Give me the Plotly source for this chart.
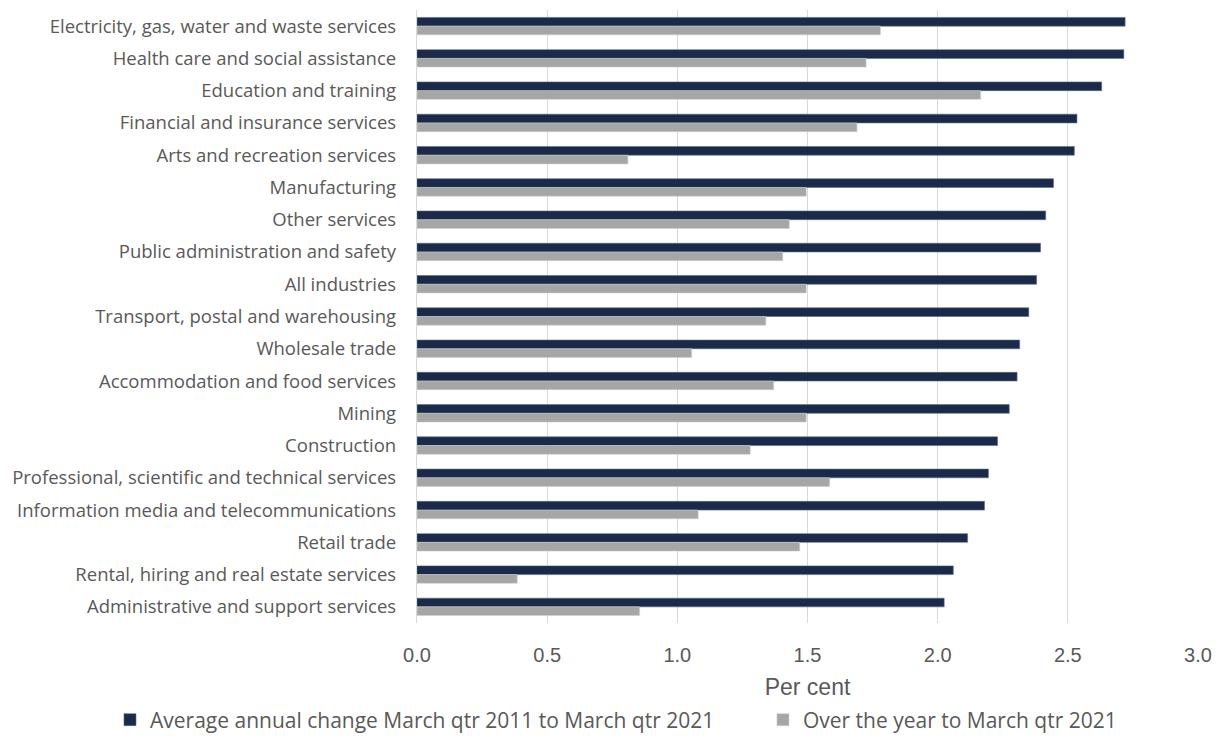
import plotly.graph_objects as go

categories = [
    "Electricity, gas, water and waste services",
    "Health care and social assistance",
    "Education and training",
    "Financial and insurance services",
    "Arts and recreation services",
    "Manufacturing",
    "Other services",
    "Public administration and safety",
    "All industries",
    "Transport, postal and warehousing",
    "Wholesale trade",
    "Accommodation and food services",
    "Mining",
    "Construction",
    "Professional, scientific and technical services",
    "Information media and telecommunications",
    "Retail trade",
    "Rental, hiring and real estate services",
    "Administrative and support services",
]
avg_annual = [2.72, 2.715, 2.63, 2.535, 2.525, 2.445, 2.415, 2.395, 2.38, 2.35,
              2.315, 2.305, 2.275, 2.23, 2.195, 2.18, 2.115, 2.06, 2.025]
over_year = [1.78, 1.725, 2.165, 1.69, 0.81, 1.495, 1.43, 1.405, 1.495, 1.34,
             1.055, 1.37, 1.495, 1.28, 1.585, 1.08, 1.47, 0.385, 0.855]

series_names = ["Average annual change March qtr 2011 to March qtr 2021",
                "Over the year to March qtr 2021"]
x_ticks = [0.0, 0.5, 1.0, 1.5, 2.0, 2.5, 3.0]

LABEL_FONT = "Open Sans"
AXIS_FONT = "Liberation Sans"
TXT = "#595959"

fig = go.Figure()
fig.add_trace(go.Bar(
    y=categories, x=avg_annual, orientation="h", name=series_names[0],
    marker=dict(color="#1b2a49", line=dict(color="#5a6b88", width=0.6)),
    legend="legend",
))
fig.add_trace(go.Bar(
    y=categories, x=over_year, orientation="h", name=series_names[1],
    marker=dict(color="#a6a6a6", line=dict(color="#cfcfcf", width=0.6)),
    legend="legend2",
))

legend_common = dict(orientation="h", xref="container", yref="container",
                     xanchor="left", y=0.0326, yanchor="middle",
                     font=dict(size=21, color=TXT, family=LABEL_FONT),
                     bgcolor="rgba(0,0,0,0)")

fig.update_layout(
    width=1223, height=736,
    margin=dict(l=409, r=33, t=2, b=121, autoexpand=False),
    paper_bgcolor="white", plot_bgcolor="white",
    barmode="group", bargap=0.46, bargroupgap=0,
    font=dict(family=LABEL_FONT, color=TXT, size=16),
    showlegend=True,
    legend=dict(x=0.0834, **legend_common),
    legend2=dict(x=0.6173, **legend_common),
)
fig.update_xaxes(
    range=[0, 3.0], tickvals=x_ticks, ticktext=[f"{v:.1f}" for v in x_ticks],
    showgrid=True, gridcolor="#d9d9d9", gridwidth=1.3,
    zeroline=False, showline=False, automargin=False,
    tickfont=dict(size=20, color=TXT, family=AXIS_FONT),
    ticks="", ticklabelstandoff=18,
    title=dict(text="Per cent", font=dict(size=23, color=TXT, family=AXIS_FONT), standoff=21),
)
fig.update_yaxes(
    autorange="reversed", showgrid=False, automargin=False,
    showline=True, linecolor="#d9d9d9", linewidth=1.3,
    tickfont=dict(size=18.5, color=TXT, family=LABEL_FONT),
    ticks="", ticklabelstandoff=16,
)

fig.write_html("out.html")
